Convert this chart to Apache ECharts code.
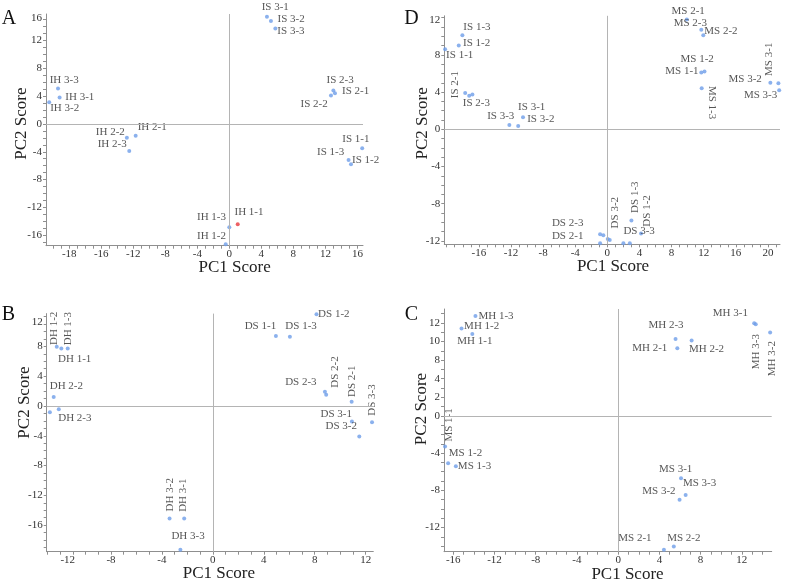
<!DOCTYPE html>
<html><head><meta charset="utf-8">
<script src="https://cdn.jsdelivr.net/npm/echarts@6/dist/echarts.min.js"></script>
<style>html,body{margin:0;padding:0;background:#fff}#c{width:787px;height:582px}</style>
</head><body><div id="c"></div>
<script>
// ---------- Panel A ----------
const A_names = ['IH 3-3','IH 3-1','IH 3-2','IH 2-2','IH 2-1','IH 2-3','IS 3-1','IS 3-2','IS 3-3','IS 2-3','IS 2-1','IS 2-2','IS 1-1','IS 1-3','IS 1-2','IH 1-1','IH 1-3','IH 1-2'];
const A_x = [-21.4,-21.2,-22.5,-12.8,-11.7,-12.5,4.7,5.2,5.75,13.0,13.2,12.7,16.6,14.9,15.2,1.05,0.0,-0.45];
const A_y = [5.1,3.8,3.1,-2.0,-1.7,-3.9,15.4,14.8,13.7,4.8,4.4,4.1,-3.5,-5.2,-5.8,-14.4,-14.85,-17.3];
const A_xTickVals = [-20,-16,-12,-8,-4,0,4,8,12,16];
const A_xTickText = ['-18','-16','-12','-8','-4','0','4','8','12','16'];
const A_yTickVals = [-16,-12,-8,-4,0,4,8,12,15.2];
const A_yTickText = ['-16','-12','-8','-4','0','4','8','12','16'];
const A_highlight = ['IH 1-1'];

// ---------- Panel D ----------
const D_names = ['IS 1-3','IS 1-2','IS 1-1','IS 2-1','IS 2-2','IS 2-3','IS 3-1','IS 3-2','IS 3-3','DS 2-3','DS 2-2','DS 2-1','DS 3-2','DS 3-1','DS 3-3','DS 1-1','DS 1-3','DS 1-2','MS 2-1','MS 2-3','MS 2-2','MS 1-2','MS 1-1','MS 1-3','MS 3-1','MS 3-2','MS 3-3'];
const D_x = [-18.05,-18.5,-20.2,-17.7,-17.2,-16.8,-10.5,-11.1,-12.2,-0.9,-0.5,-0.9,0.05,0.3,2.0,2.8,3.0,4.2,9.9,11.7,11.95,12.1,11.7,11.75,20.3,21.3,21.4];
const D_y = [10.1,9.0,8.6,3.9,3.6,3.75,1.3,0.35,0.46,-11.3,-11.4,-12.25,-11.8,-11.9,-12.25,-12.25,-9.8,-11.2,11.8,10.7,10.1,6.2,6.1,4.4,5.0,4.95,4.2];
const D_xTickVals = [-16,-12,-8,-4,0,4,8,12,16,20];
const D_xTickText = ['-16','-12','-8','-4','0','4','8','12','16','20'];
const D_yTickVals = [-12,-8,-4,0,4,8,11.75];
const D_yTickText = ['-12','-8','-4','0','4','8','12'];

// ---------- Panel B ----------
const B_names = ['DH 1-2','DH 1-3','DH 1-1','DH 2-2','DH 2-1','DH 2-3','DH 3-2','DH 3-1','DH 3-3','DS 1-2','DS 1-1','DS 1-3','DS 2-3','DS 2-2','DS 2-1','DS 3-3','DS 3-1','DS 3-2'];
const B_x = [-12.26,-11.4,-11.9,-12.5,-12.8,-12.1,-3.4,-2.25,-2.55,8.14,4.95,6.05,8.8,8.9,10.9,12.5,10.92,11.5];
const B_y = [7.96,7.7,7.7,1.2,-0.85,-0.45,-15.1,-15.1,-19.3,12.3,9.4,9.3,1.9,1.5,0.58,-2.2,-2.1,-4.1];
const B_xTickVals = [-11.4,-8,-4,0,4,8,12];
const B_xTickText = ['-12','-8','-4','0','4','8','12'];
const B_yTickVals = [-16,-12,-8,-4,0,4,8,11.3];
const B_yTickText = ['-16','-12','-8','-4','0','4','8','12'];

// ---------- Panel C ----------
const C_names = ['MH 1-3','MH 1-2','MH 1-1','MS 1-1','MS 1-2','MS 1-3','MH 2-3','MH 2-1','MH 2-2','MH 3-1','MH 3-3','MH 3-2','MS 3-1','MS 3-3','MS 3-2','MS 2-1','MS 2-2'];
const C_x = [-13.85,-15.2,-14.15,-16.8,-16.5,-15.75,5.57,5.74,7.13,13.2,13.35,14.75,6.1,6.55,5.96,4.44,5.4];
const C_y = [10.75,9.4,8.8,-3.3,-5.1,-5.4,8.28,7.28,8.1,9.97,9.86,8.96,-6.7,-8.5,-9.0,-14.4,-14.05];
const C_xTickVals = [-16,-12,-8,-4,0,4,8,12];
const C_xTickText = ['-16','-12','-8','-4','0','4','8','12'];
const C_yTickVals = [-12,-8,-4,0,2,4,6,8,10];
const C_yTickText = ['-12','-8','-4','0','2','4','8','10','12'];

// ---------- label placement (pixels: align, dx, dy, rotate) ----------
const A_L = {'IH 3-3':['left',-8.3,-8.3],'IH 3-1':['left',5.7,-0.7],'IH 3-2':['left',1,5.7],'IH 2-2':['right',-2,-6],'IH 2-1':['left',2,-8.3],'IH 2-3':['right',-2.6,-7],'IS 3-1':['center',8.3,-10],'IS 3-2':['left',6.6,-1.7],'IS 3-3':['left',2,2.7],'IS 2-3':['center',6.7,-10.7],'IS 2-1':['left',7,-2.3],'IS 2-2':['right',-3.3,8.3],'IS 1-1':['center',-6.3,-9],'IS 1-3':['right',-4.4,-7.7],'IS 1-2':['left',1,-4.3],'IH 1-1':['center',11.3,-12],'IH 1-3':['right',-3.3,-10.6],'IH 1-2':['right',0.3,-8.3]};
const D_L = {'IS 1-3':['left',1,-8.3],'IS 1-2':['left',4.3,-2.4],'IS 1-1':['left',1,5.7],'IS 2-1':['center',-10,-8.3,90],'IS 2-3':['left',-9.6,9],'IS 3-1':['center',8.7,-10],'IS 3-2':['left',9,-6.7],'IS 3-3':['right',5,-9],'DS 2-3':['right',-16.7,-11.6],'DS 2-1':['right',-16.7,-7.3],'DS 3-2':['center',7.3,-26.3,90],'DS 3-3':['left',0,-12.3],'DS 1-3':['center',3.3,-23.2,90],'DS 1-2':['center',5.7,-22.5,90],'MS 2-1':['center',1.3,-8.6],'MS 2-3':['right',5.7,-6.7],'MS 2-2':['left',1,-4.3],'MS 1-2':['center',-7.3,-12.4],'MS 1-1':['right',-2.7,-1],'MS 1-3':['center',10.6,14.2,-90],'MS 3-1':['center',-1,-23.5,90],'MS 3-2':['right',-16.6,-4],'MS 3-3':['right',-2,5]};
const B_L = {'DH 1-2':['center',-2.3,-18.4,90],'DH 1-3':['center',0.3,-20,90],'DH 1-1':['left',-3.3,10],'DH 2-2':['left',-4,-10.6],'DH 2-3':['left',-0.6,8.4],'DH 3-2':['center',0.5,-23.7,90],'DH 3-1':['center',-1.2,-23.3,90],'DH 3-3':['left',-9,-14],'DS 1-2':['left',1.6,-0.3],'DS 1-1':['center',-15.5,-9.7],'DS 1-3':['center',11.2,-10.7],'DS 2-3':['right',-8.3,-9.4],'DS 2-2':['center',8.6,-22.8,90],'DS 2-1':['center',0.3,-20.4,90],'DS 3-3':['center',-0.3,-22.3,90],'DS 3-1':['right',0,-7.4],'DS 3-2':['right',-2.3,-10]};
const C_L = {'MH 1-3':['left',3,0],'MH 1-2':['left',2.6,-2.3],'MH 1-1':['left',-15,6.7],'MS 1-1':['center',3.7,-21.7,90],'MS 1-2':['left',0.7,-10],'MS 1-3':['left',2,0],'MH 2-3':['center',-9.5,-14],'MH 2-1':['right',-10,0],'MH 2-2':['left',-2.7,8.6],'MH 3-1':['center',-23.8,-10],'MH 3-3':['center',0.3,27.4,90],'MH 3-2':['center',2,26,90],'MS 3-1':['center',-5.3,-9],'MS 3-3':['left',-2.7,-12.3],'MS 3-2':['right',-4,-9],'MS 2-1':['center',-29,-11.7],'MS 2-2':['center',10,-8.4]};

const FONT = '"Liberation Serif", "Times New Roman", serif';
const AX = '#8f8f8f';
const PT = '#6e9de8';
const SYM = 4;

const panels = [
  {letter:'A', names:A_names, x:A_x, y:A_y, L:A_L, hi:A_highlight, grid:{left:46, top:14.0, width:317, height:231.7}, xr:[-22.9,16.7], yr:[-17.5,15.8], xtv:A_xTickVals, xtt:A_xTickText, ytv:A_yTickVals, ytt:A_yTickText,
   letterPos:[9,18.5], xTitle:[234.7,268], yTitle:[21.7,123.7]},
  {letter:'D', names:D_names, x:D_x, y:D_y, L:D_L, hi:[], grid:{left:444.3, top:15.8, width:335.7, height:228.5}, xr:[-20.3,21.5], yr:[-12.37,12.2], xtv:D_xTickVals, xtt:D_xTickText, ytv:D_yTickVals, ytt:D_yTickText,
   letterPos:[411.5,19], xTitle:[613,266.7], yTitle:[423,123.3]},
  {letter:'B', names:B_names, x:B_x, y:B_y, L:B_L, hi:[], grid:{left:46.7, top:313.6, width:326.6, height:238.1}, xr:[-13.05,12.6], yr:[-19.56,12.4], xtv:B_xTickVals, xtt:B_xTickText, ytv:B_yTickVals, ytt:B_yTickText,
   letterPos:[8.5,315], xTitle:[218.8,573.3], yTitle:[25,402.5]},
  {letter:'C', names:C_names, x:C_x, y:C_y, L:C_L, hi:[], grid:{left:444, top:309, width:327.7, height:242.7}, xr:[-16.9,14.9], yr:[-14.6,11.5], xtv:C_xTickVals, xtt:C_xTickText, ytv:C_yTickVals, ytt:C_yTickText,
   letterPos:[411.5,315], xTitle:[627.5,575], yTitle:[421.5,409]}
];

function minorTicks(a, b) {
  const out = [];
  for (let v = Math.ceil(a); v <= Math.floor(b); v++) out.push(v);
  return out;
}
function fmt(vals, texts) {
  return function (v) {
    const i = vals.findIndex(t => Math.abs(t - v) < 1e-6);
    return i >= 0 ? texts[i] : '';
  };
}

const grids = [], xAxes = [], yAxes = [], series = [], graphics = [];
panels.forEach((p, i) => {
  grids.push(Object.assign({containLabel:false, outerBoundsMode:'none'}, p.grid));
  const common = {
    type:'value', gridIndex:i, splitLine:{show:false}, scale:false,
    axisLine:{show:true, onZero:false, lineStyle:{color:AX, width:1}},
  };
  xAxes.push(Object.assign({}, common, {
    min:p.xr[0], max:p.xr[1],
    axisTick:{show:true, customValues:minorTicks(p.xr[0], p.xr[1]), length:3, lineStyle:{color:AX}},
    axisLabel:{customValues:p.xtv, formatter:fmt(p.xtv, p.xtt), margin:3, fontFamily:FONT, fontSize:11, color:'#333', hideOverlap:false, showMinLabel:true, showMaxLabel:true}
  }));
  yAxes.push(Object.assign({}, common, {
    min:p.yr[0], max:p.yr[1],
    axisTick:{show:true, customValues:minorTicks(p.yr[0], p.yr[1]), length:3, lineStyle:{color:AX}},
    axisLabel:{customValues:p.ytv, formatter:fmt(p.ytv, p.ytt), margin:4, fontFamily:FONT, fontSize:11, color:'#333', hideOverlap:false, showMinLabel:true, showMaxLabel:true}
  }));
  const data = p.names.map((n, k) => {
    const d = {name:n, value:[p.x[k], p.y[k]]};
    if (p.hi.indexOf(n) >= 0) d.itemStyle = {color:'#e8383d'};
    const l = p.L[n];
    if (l) {
      d.label = {show:true, position:[l[1] + SYM/2, l[2] + SYM/2], align:l[0], verticalAlign:'middle', rotate:l[3] || 0,
                 formatter:n, fontFamily:FONT, fontSize:11, color:'#2a2a2a'};
    } else {
      d.label = {show:false};
    }
    return d;
  });
  series.push({
    type:'scatter', xAxisIndex:i, yAxisIndex:i, symbol:'circle', symbolSize:SYM,
    itemStyle:{color:PT}, data:data, z:3,
    markLine:{silent:true, symbol:'none', label:{show:false}, animation:false,
      lineStyle:{color:'#b4b4b4', width:1, type:'solid'},
      data:[{xAxis:0},{yAxis:0}]}
  });
  graphics.push({type:'text', x:p.letterPos[0], y:p.letterPos[1], style:{text:p.letter, font:'20px ' + FONT, fill:'#111', align:'center', verticalAlign:'middle'}});
  graphics.push({type:'text', x:p.xTitle[0], y:p.xTitle[1], style:{text:'PC1 Score', font:'17px ' + FONT, fill:'#222', align:'center', verticalAlign:'middle'}});
  graphics.push({type:'text', x:p.yTitle[0], y:p.yTitle[1], rotation:Math.PI/2, style:{text:'PC2 Score', font:'17px ' + FONT, fill:'#222', align:'center', verticalAlign:'middle'}});
});

const chart = echarts.init(document.getElementById('c'), null, {renderer:'canvas'});
chart.setOption({
  animation:false,
  backgroundColor:'#ffffff',
  grid:grids, xAxis:xAxes, yAxis:yAxes, series:series, graphic:graphics
});
</script></body></html>
